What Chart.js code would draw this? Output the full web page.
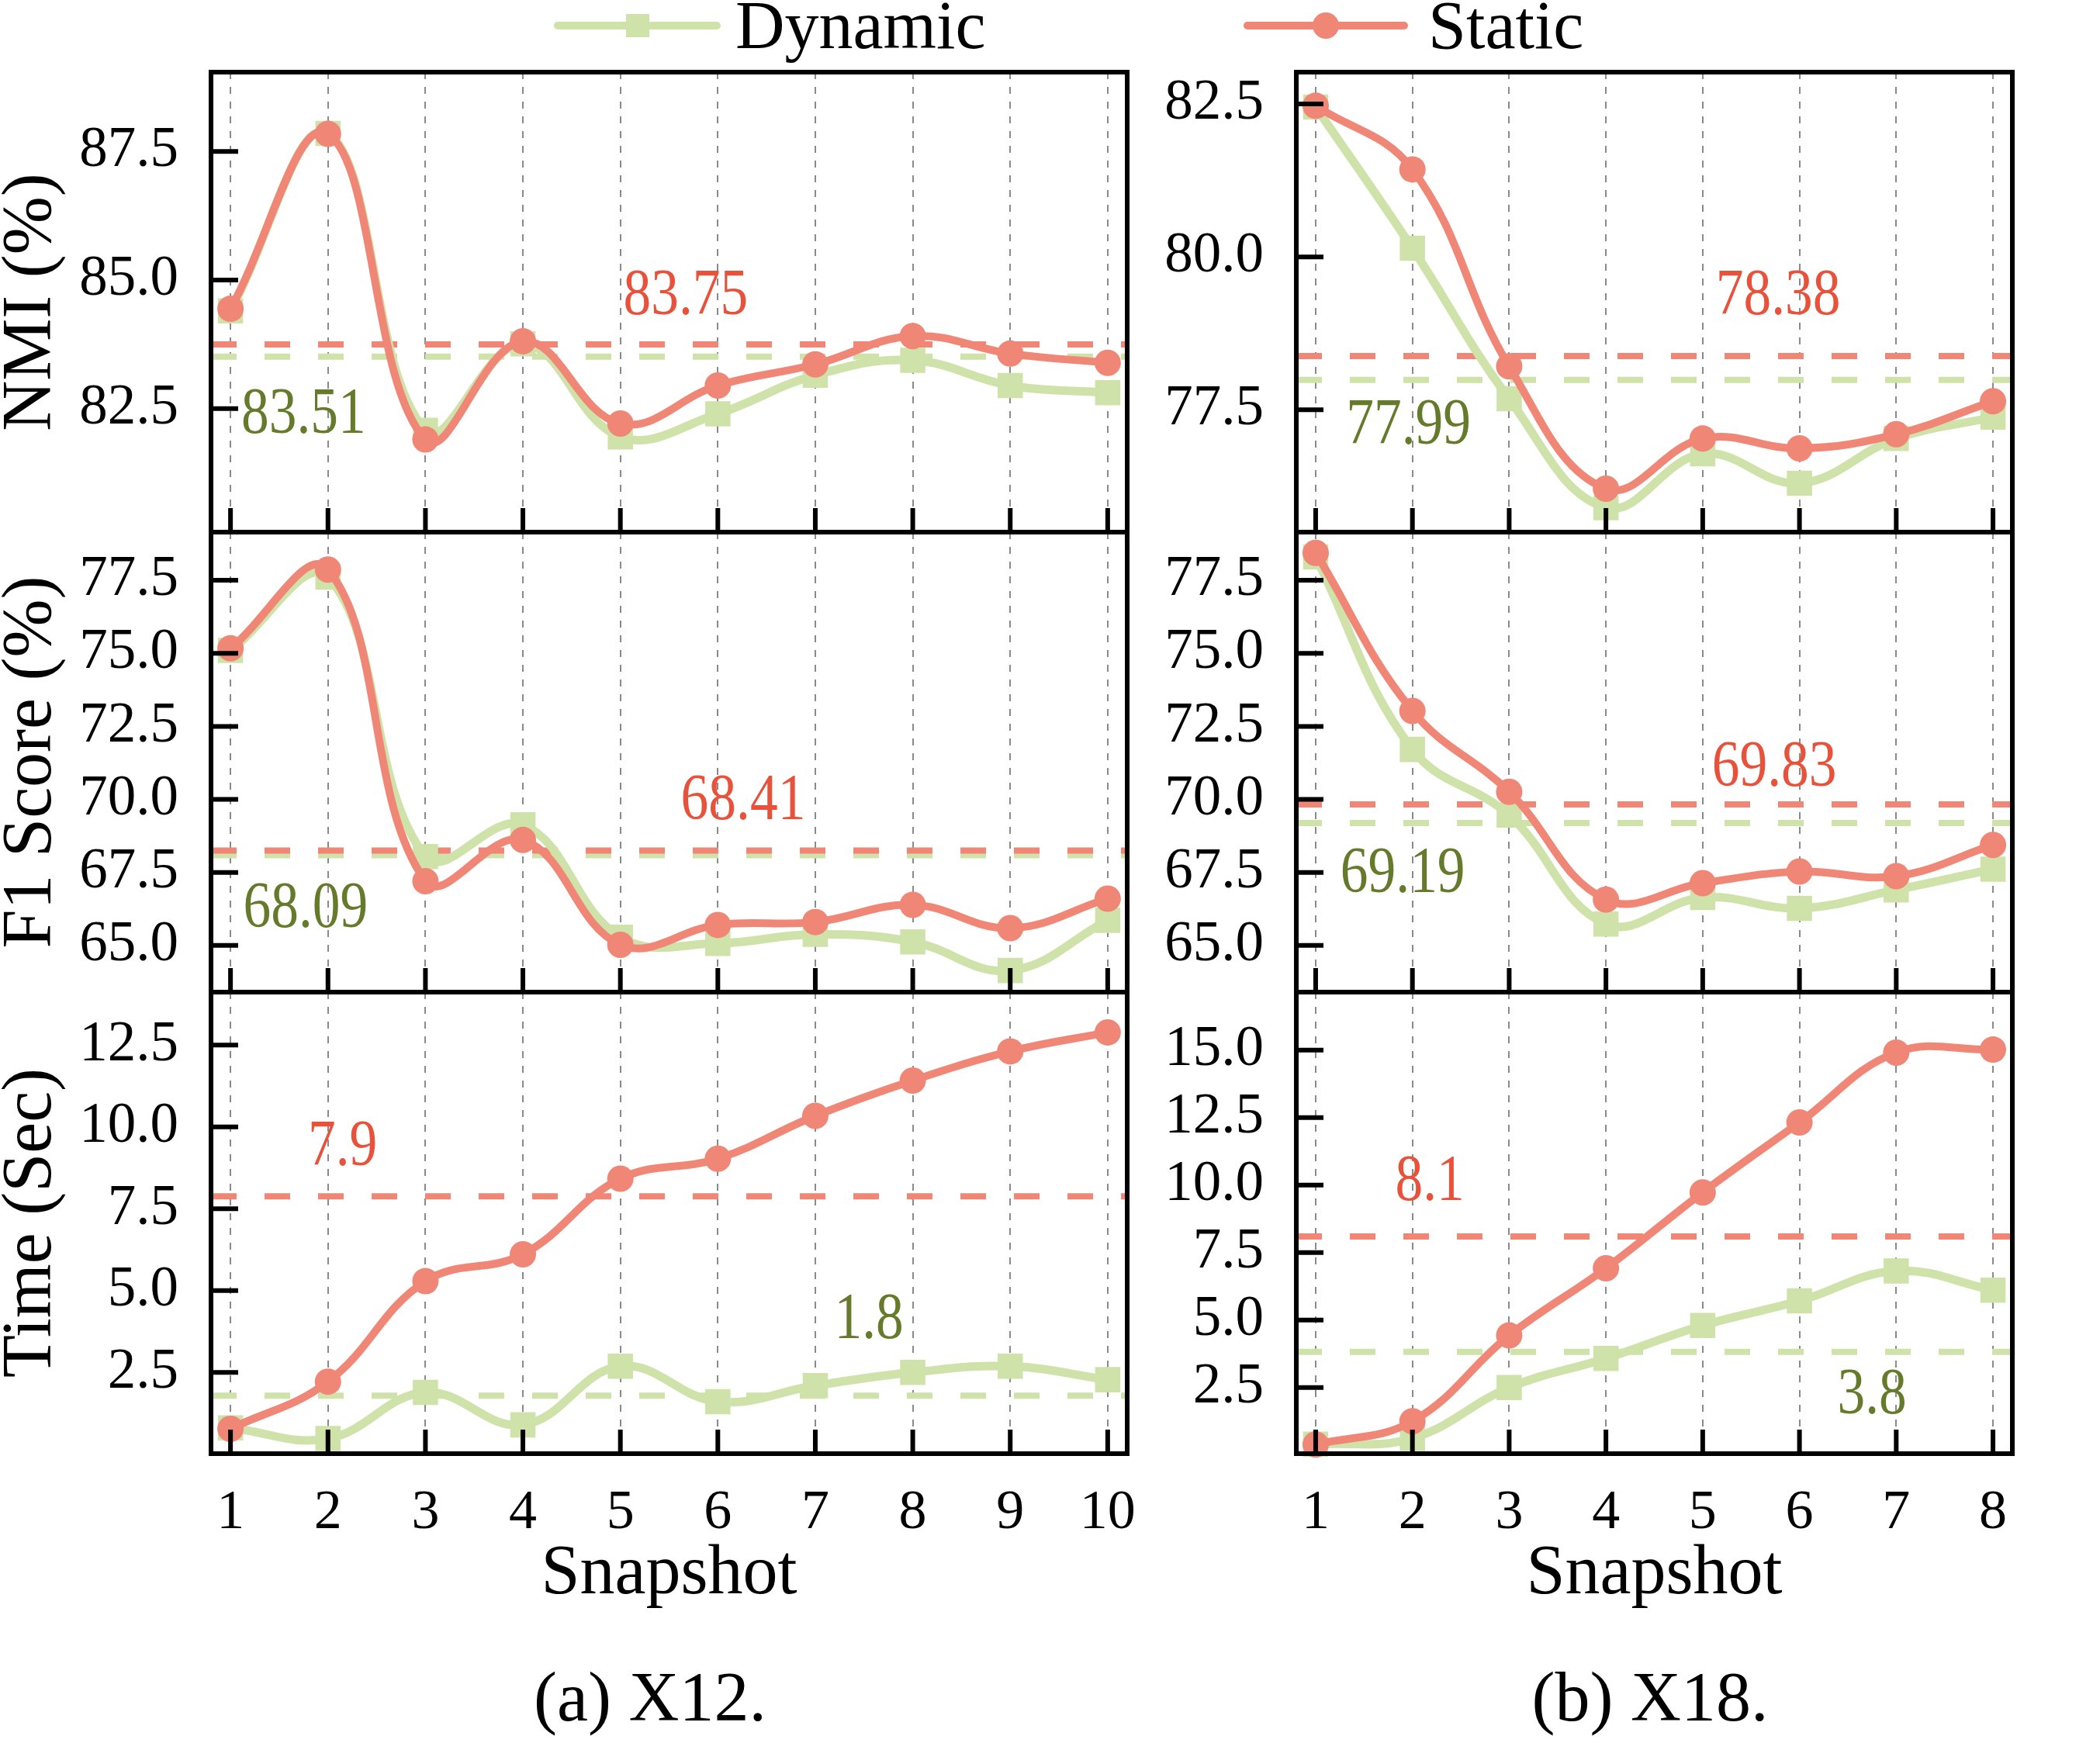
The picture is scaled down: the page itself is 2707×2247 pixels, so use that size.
<!DOCTYPE html>
<html>
<head>
<meta charset="utf-8">
<script src="https://cdn.jsdelivr.net/npm/chart.js@4.4.1/dist/chart.umd.min.js"></script>
<style>
  body { margin: 0; width: 2707px; height: 2247px; background: #fff; position: relative; overflow: hidden;
         font-family: 'Liberation Serif', 'Times New Roman', serif; }
  canvas { position: absolute; }
  .abs { position: absolute; }
  .txt { position: absolute; line-height: 1; white-space: nowrap; color: #000; }
</style>
</head>
<body>

<!-- legend -->
<div class="abs" style="left:714px;top:28px;width:215px;height:10px;background:#CFE2A9;border-radius:5px"></div>
<div class="abs" style="left:807px;top:18px;width:30px;height:30px;background:#CFE2A9"></div>
<div class="txt" style="left:948px;top:-11px;font-size:88px">Dynamic</div>
<div class="abs" style="left:1603px;top:28px;width:212px;height:10px;background:#F08676;border-radius:5px"></div>
<div class="abs" style="left:1692px;top:16px;width:34px;height:34px;background:#F08676;border-radius:50%"></div>
<div class="txt" style="left:1841px;top:-11px;font-size:88px">Static</div>

<!-- captions -->
<div class="txt" style="left:638px;width:400px;text-align:center;top:2143px;font-size:90px">(a) X12.</div>
<div class="txt" style="left:1927px;width:400px;text-align:center;top:2143px;font-size:90px">(b) X18.</div>

<script>
// ---------- data ----------
const snapshotsX12 = [1, 2, 3, 4, 5, 6, 7, 8, 9, 10];
const snapshotsX18 = [1, 2, 3, 4, 5, 6, 7, 8];

const nmiX12Dynamic = [84.40, 87.85, 82.08, 83.76, 81.95, 82.40, 83.15, 83.44, 82.95, 82.81];
const nmiX12Static  = [84.44, 87.84, 81.90, 83.81, 82.21, 82.95, 83.36, 83.91, 83.57, 83.39];
const nmiX18Dynamic = [82.45, 80.14, 77.68, 75.90, 76.78, 76.30, 77.03, 77.38];
const nmiX18Static  = [82.47, 81.43, 78.21, 76.21, 77.03, 76.87, 77.10, 77.64];

const f1X12Dynamic = [75.10, 77.61, 68.04, 69.13, 65.28, 65.07, 65.38, 65.12, 64.14, 65.86];
const f1X12Static  = [75.17, 77.87, 67.20, 68.61, 65.02, 65.70, 65.80, 66.39, 65.59, 66.60];
const f1X18Dynamic = [78.30, 71.71, 69.46, 65.73, 66.64, 66.27, 66.90, 67.61];
const f1X18Static  = [78.44, 73.03, 70.26, 66.57, 67.13, 67.53, 67.37, 68.44];

const timeX12Dynamic = [0.81, 0.48, 1.89, 0.90, 2.69, 1.61, 2.10, 2.50, 2.69, 2.28];
const timeX12Static  = [0.78, 2.22, 5.29, 6.11, 8.42, 9.03, 10.34, 11.42, 12.31, 12.89];
const timeX18Dynamic = [0.40, 0.62, 2.50, 3.58, 4.80, 5.71, 6.82, 6.11];
const timeX18Static  = [0.39, 1.25, 4.43, 6.92, 9.73, 12.32, 14.91, 15.02];

// mean lines per row (NMI, F1, Time)
const meanX12Static  = [83.75, 68.25, 7.88];
const meanX12Dynamic = [83.51, 68.09, 1.79];
const meanX18Static  = [78.38, 69.83, 8.10];
const meanX18Dynamic = [77.99, 69.19, 3.82];
const meanLabelX12Static  = ['83.75', '68.41', '7.9'];
const meanLabelX12Dynamic = ['83.51', '68.09', '1.8'];
const meanLabelX18Static  = ['78.38', '69.83', '8.1'];
const meanLabelX18Dynamic = ['77.99', '69.19', '3.8'];

const yTicksNmiX12  = [82.5, 85.0, 87.5];
const yTicksNmiX18  = [77.5, 80.0, 82.5];
const yTicksF1      = [65.0, 67.5, 70.0, 72.5, 75.0, 77.5];
const yTicksTimeX12 = [2.5, 5.0, 7.5, 10.0, 12.5];
const yTicksTimeX18 = [2.5, 5.0, 7.5, 10.0, 12.5, 15.0];

const rowTitles = ['NMI (%)', 'F1 Score (%)', 'Time (Sec)'];

// ---------- style / layout ----------
const SERIF = "'Liberation Serif', 'Times New Roman', serif";
const RED = '#F08676', GREEN = '#CFE2A9';
const RED_TEXT = '#E8523B', GREEN_TEXT = '#657B2B';

const COLS = [{ left: 272, right: 1453 }, { left: 1671, right: 2594 }];
const ROWS = [{ top: 93, bottom: 686 }, { top: 686, bottom: 1279 }, { top: 1279, bottom: 1874 }];
const PAD = 24;

// which arrays go in which panel + axis range + note positions (data coords)
const panels = [
  { row: 0, col: 0, xs: snapshotsX12, dyn: nmiX12Dynamic, sta: nmiX12Static, yMin: 80.1, yMax: 89.04, yTicks: yTicksNmiX12,
    staNote: [5.67, 84.66], dynNote: [1.75, 82.36] },
  { row: 0, col: 1, xs: snapshotsX18, dyn: nmiX18Dynamic, sta: nmiX18Static, yMin: 75.5, yMax: 83.02, yTicks: yTicksNmiX18,
    staNote: [5.78, 79.34], dynNote: [1.96, 77.23] },
  { row: 1, col: 0, xs: snapshotsX12, dyn: f1X12Dynamic, sta: f1X12Static, yMin: 63.4, yMax: 79.15, yTicks: yTicksF1,
    staNote: [6.26, 69.91], dynNote: [1.77, 66.22] },
  { row: 1, col: 1, xs: snapshotsX18, dyn: f1X18Dynamic, sta: f1X18Static, yMin: 63.4, yMax: 79.15, yTicks: yTicksF1,
    staNote: [5.74, 71.06], dynNote: [1.90, 67.42] },
  { row: 2, col: 0, xs: snapshotsX12, dyn: timeX12Dynamic, sta: timeX12Static, yMin: 0.02, yMax: 14.12, yTicks: yTicksTimeX12,
    staNote: [2.15, 9.35], dynNote: [7.55, 4.08] },
  { row: 2, col: 1, xs: snapshotsX18, dyn: timeX18Dynamic, sta: timeX18Static, yMin: 0.05, yMax: 17.15, yTicks: yTicksTimeX18,
    staNote: [2.18, 10.07], dynNote: [6.75, 2.17] }
];

// frame, inward ticks and mean labels, drawn on top of the lines
const frameAndNotes = {
  id: 'frameAndNotes',
  afterDatasetsDraw(chart, args, opts) {
    const { ctx, chartArea: a, scales: { x, y } } = chart;
    ctx.save();
    ctx.strokeStyle = '#000';
    ctx.lineWidth = 6;
    ctx.beginPath();
    x.ticks.forEach(t => {
      const px = x.getPixelForValue(t.value);
      ctx.moveTo(px, a.bottom); ctx.lineTo(px, a.bottom - 31);
    });
    y.ticks.forEach(t => {
      const py = y.getPixelForValue(t.value);
      ctx.moveTo(a.left, py); ctx.lineTo(a.left + 35, py);
    });
    ctx.stroke();
    ctx.strokeRect(a.left, a.top, a.right - a.left, a.bottom - a.top);

    // the figure's serif runs a bit narrower and taller than Liberation Serif
    ctx.font = '76px ' + SERIF;
    ctx.textAlign = 'center';
    ctx.textBaseline = 'middle';
    opts.notes.forEach(n => {
      ctx.save();
      ctx.translate(x.getPixelForValue(n.at[0]), y.getPixelForValue(n.at[1]));
      ctx.scale(0.94, 1.1);
      ctx.fillStyle = n.color;
      ctx.fillText(n.text, 0, 0);
      ctx.restore();
    });
    ctx.restore();
  }
};

function makePanel(p) {
  const col = COLS[p.col], row = ROWS[p.row];
  const bottomRow = p.row === 2;
  const axW = p.col === 0 ? 276 : 200;
  const xAxisH = bottomRow ? 201 : 0;
  const padB = bottomRow ? 0 : PAD;
  const plotW = col.right - col.left, plotH = row.bottom - row.top;

  const cv = document.createElement('canvas');
  cv.width = axW + plotW + PAD;
  cv.height = PAD + plotH + xAxisH + padB;
  cv.style.left = (col.left - axW) + 'px';
  cv.style.top = (row.top - PAD) + 'px';
  document.body.appendChild(cv);

  const xMin = 0.8, xMax = p.xs.length + 0.2;
  const staMean = (p.col === 0 ? meanX12Static : meanX18Static)[p.row];
  const dynMean = (p.col === 0 ? meanX12Dynamic : meanX18Dynamic)[p.row];
  const staLabel = (p.col === 0 ? meanLabelX12Static : meanLabelX18Static)[p.row];
  const dynLabel = (p.col === 0 ? meanLabelX12Dynamic : meanLabelX18Dynamic)[p.row];

  new Chart(cv, {
    type: 'line',
    data: {
      datasets: [
        { label: 'Static', data: p.sta.map((v, i) => ({ x: p.xs[i], y: v })),
          borderColor: RED, backgroundColor: RED, borderWidth: 10,
          pointStyle: 'circle', pointRadius: 17, pointBorderWidth: 0, pointBackgroundColor: RED,
          tension: 0.4, clip: false },
        { label: 'Dynamic', data: p.dyn.map((v, i) => ({ x: p.xs[i], y: v })),
          borderColor: GREEN, backgroundColor: GREEN, borderWidth: 11,
          pointStyle: 'rect', pointRadius: 23, pointBorderWidth: 0, pointBackgroundColor: GREEN,
          tension: 0.4, clip: false },
        { label: 'Static mean', data: [{ x: xMin, y: staMean }, { x: xMax, y: staMean }],
          borderColor: RED, borderWidth: 8, borderDash: [33, 36], pointRadius: 0, tension: 0 },
        { label: 'Dynamic mean', data: [{ x: xMin, y: dynMean }, { x: xMax, y: dynMean }],
          borderColor: GREEN, borderWidth: 8, borderDash: [33, 36], pointRadius: 0, tension: 0 }
      ]
    },
    options: {
      responsive: false,
      animation: false,
      devicePixelRatio: 1,
      layout: { autoPadding: false, padding: { left: 0, top: PAD, right: PAD, bottom: padB } },
      plugins: {
        legend: { display: false },
        tooltip: { enabled: false },
        frameAndNotes: {
          notes: [
            { text: staLabel, at: p.staNote, color: RED_TEXT },
            { text: dynLabel, at: p.dynNote, color: GREEN_TEXT }
          ]
        }
      },
      scales: {
        x: {
          type: 'linear', min: xMin, max: xMax, bounds: 'data',
          afterBuildTicks: s => { s.ticks = p.xs.map(v => ({ value: v })); },
          afterFit: s => { s.height = xAxisH; s.paddingLeft = 0; s.paddingRight = 0; },
          grid: { display: true, color: '#8a8a8a', lineWidth: 2, drawTicks: false },
          border: { display: false, dash: [9, 10] },
          ticks: { display: bottomRow, color: '#000', font: { family: SERIF, size: 72 },
                   padding: 34, maxRotation: 0, autoSkip: false, callback: v => String(v) },
          title: { display: bottomRow, text: 'Snapshot', color: '#000',
                   font: { family: SERIF, size: 90, lineHeight: 1 }, padding: { top: 0, bottom: 0 } }
        },
        y: {
          type: 'linear', position: 'left', min: p.yMin, max: p.yMax, bounds: 'data',
          afterBuildTicks: s => { s.ticks = p.yTicks.map(v => ({ value: v })); },
          afterFit: s => { s.width = axW; s.paddingTop = 0; s.paddingBottom = 0; },
          grid: { display: false, drawTicks: false },
          border: { display: false },
          ticks: { color: '#000', font: { family: SERIF, size: 73 }, padding: 42,
                   callback: v => Number(v).toFixed(1) },
          title: { display: p.col === 0, text: rowTitles[p.row], color: '#000',
                   font: { family: SERIF, size: 90, lineHeight: 1 }, padding: { top: 0, bottom: 0 } }
        }
      }
    },
    plugins: [frameAndNotes]
  });
}

panels.forEach(makePanel);
</script>
</body>
</html>
